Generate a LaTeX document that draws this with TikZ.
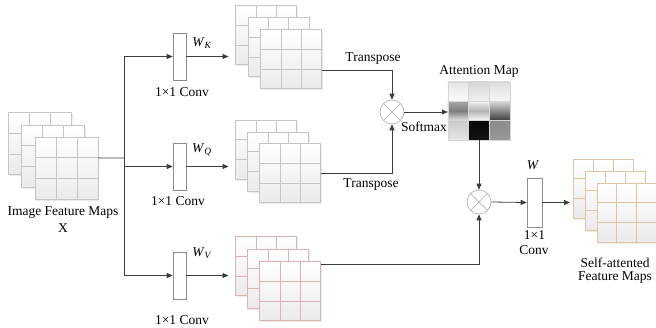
\documentclass[tikz,border=0pt]{standalone}
\usepackage{fontspec}
\setmainfont{Liberation Serif}
\usetikzlibrary{arrows.meta,calc,shadows}

\definecolor{lineC}{HTML}{3C3C3C}
\definecolor{gridG}{HTML}{C3C7CC}
\definecolor{gridR}{HTML}{DDB2B2}
\definecolor{gridT}{HTML}{DCC6A6}
\definecolor{boxC}{HTML}{8C8C8C}
\definecolor{circC}{HTML}{AAAAAA}

\begin{document}
\begin{tikzpicture}[x=1pt,y=-1pt,
  fmap/.style={draw=#1, line width=0.5pt, inner sep=0pt, outer sep=0pt,
    minimum width=61pt, minimum height=59pt,
    top color=white, bottom color=black!8,
    drop shadow={opacity=0.16, shadow xshift=1pt, shadow yshift=-1.5pt},
    path picture={
      \foreach \t in {0.3333,0.6667}{
        \draw[#1, line width=0.5pt]
          ($(path picture bounding box.north west)!\t!(path picture bounding box.north east)$) --
          ($(path picture bounding box.south west)!\t!(path picture bounding box.south east)$);
        \draw[#1, line width=0.5pt]
          ($(path picture bounding box.north west)!\t!(path picture bounding box.south west)$) --
          ($(path picture bounding box.north east)!\t!(path picture bounding box.south east)$);
      }
    }},
  conv/.style={draw=boxC, line width=0.6pt, fill=white, minimum width=13pt,
    minimum height=47pt, inner sep=0pt},
  mul/.style={circle, draw=circC, line width=0.6pt, minimum size=24pt, inner sep=0pt,
    path picture={\draw[circC, line width=0.6pt]
      (path picture bounding box.north west) -- (path picture bounding box.south east)
      (path picture bounding box.north east) -- (path picture bounding box.south west);}},
  conn/.style={draw=lineC, line width=0.8pt},
  arr/.style={conn, -{Triangle[length=6pt,width=5pt]}},
  lbl/.style={inner sep=0pt, font=\fontsize{13.5}{15}\selectfont}
]
\useasboundingbox (0,0) rectangle (656,327);

% input feature maps
\node[fmap=gridG, minimum width=63pt, minimum height=62pt] (inB) at (40,143.5) {};
\node[fmap=gridG, minimum width=63pt, minimum height=62pt] (inM) at (53,156) {};
\node[fmap=gridG, minimum width=63pt, minimum height=62pt] (inF) at (66.5,168) {};
\node[lbl] (inL1) at (63,213) {Image Feature Maps};
\node[lbl] (inL2) at (63,228) {X};

% 1x1 convolutions
\node[conv] (convK) at (179.5,56.5) {};
\node[conv] (convQ) at (179.5,166.5) {};
\node[conv] (convV) at (179.5,275.5) {};
\node[lbl] (convKl) at (182,92) {1×1 Conv};
\node[lbl] (convQl) at (178,201) {1×1 Conv};
\node[lbl] (convVl) at (182,320) {1×1 Conv};
\node[lbl] (wK) at (202,43) {\textit{W}\textsubscript{\textit{K}}};
\node[lbl] (wQ) at (202,150) {\textit{W}\textsubscript{\textit{Q}}};
\node[lbl] (wV) at (202,253) {\textit{W}\textsubscript{\textit{V}}};

% key, query and value maps
\node[fmap=gridG] (kB) at (266,35) {};
\node[fmap=gridG] (kM) at (278.5,47) {};
\node[fmap=gridG] (kF) at (291,59) {};
\node[fmap=gridG] (qB) at (266,149.5) {};
\node[fmap=gridG] (qM) at (278,161.5) {};
\node[fmap=gridG] (qF) at (290,173) {};
\node[fmap=gridR] (vB) at (266,266) {};
\node[fmap=gridR] (vM) at (278,278.5) {};
\node[fmap=gridR] (vF) at (290,291) {};

% products
\node[mul] (mulA) at (392,112) {};
\node[mul] (mulB) at (479,202) {};

% attention map: 3x3 shaded cells
\node[minimum width=62pt, minimum height=58pt, inner sep=0pt] (att) at (479,111) {};
\begin{scope}[shift={(att.north west)}]
  \foreach \c/\r/\ta/\tm/\tb in {
      0/0/E4E4E4/F2F2F2/FAFAFA, 1/0/D6D6D6/E4E4E4/F0F0F0, 2/0/DCDCDC/EAEAEA/F6F6F6,
      0/1/A8A8A8/7E7E7E/E2E2E2, 1/1/F2F2F2/B4B4B4/F8F8F8, 2/1/D8D8D8/8A8A8A/3C3C3C,
      0/2/CACACA/D8D8D8/E6E6E6, 1/2/080808/0C0C0C/141414, 2/2/8C8C8C/909090/989898}{
    \definecolor{cellA}{HTML}{\ta}
    \definecolor{cellM}{HTML}{\tm}
    \definecolor{cellB}{HTML}{\tb}
    \shade[top color=cellA, bottom color=cellB, middle color=cellM]
      (\c*20.667,\r*19.333) rectangle ++(20.667,19.333);
  }
  \foreach \i in {1,2}{
    \draw[black!16, line width=0.4pt] (\i*20.667,0) -- ++(0,58);
    \draw[black!16, line width=0.4pt] (0,\i*19.333) -- ++(62,0);
  }
  \draw[black!16, line width=0.4pt] (0,0) rectangle (62,58);
\end{scope}
\node[lbl] (attL) at (479,71) {Attention Map};

% output convolution and maps
\node[conv, minimum width=15pt, minimum height=49pt] (wconv) at (534.5,202.5) {};
\node[lbl] (wL) at (533,165) {\textit{W}};
\node[lbl] (wL1) at (534.5,235) {1×1};
\node[lbl] (wL2) at (534,250) {Conv};
\node[fmap=gridT, minimum width=60pt] (oB) at (603,188.5) {};
\node[fmap=gridT, minimum width=60pt] (oM) at (615,200.5) {};
\node[fmap=gridT, minimum width=59pt] (oF) at (626.5,212.5) {};
\node[lbl] (oL1) at (615,263) {Self-attented};
\node[lbl] (oL2) at (615,278) {Feature Maps};

% connectors
\coordinate (inOut) at ($(inF.north east)!0.34!(inF.south east)$);
\coordinate (split) at (124,158);
\draw[conn] (inOut) -- (split);
\draw[conn] (convK.west -| split) -- (convV.west -| split);
\draw[arr] (convK.west -| split) -- (convK.west);
\draw[arr] (convQ.west -| split) -- (convQ.west);
\draw[arr] (convV.west -| split) -- (convV.west);

\draw[arr, shorten >=7pt] (convK.east) -- (convK.east -| kB.west);
\draw[arr, shorten >=7pt] (convQ.east) -- (convQ.east -| qB.west);
\draw[arr, shorten >=7pt] (convV.east) -- (convV.east -| vB.west);

\draw[arr] ($(kF.north east)!0.69!(kF.south east)$) -| (mulA.north);
\draw[arr] (qF.east) -| (mulA.south);
\node[lbl] (trA) at (373,59) {Transpose};
\node[lbl] (trB) at (371,185) {Transpose};

\draw[arr] (mulA.east) -- (mulA.east -| att.west);
\node[lbl] (smx) at (424,127) {Softmax};

\draw[arr] (att.south) -- (mulB.north);
\draw[arr] ($(vF.north east)+(0,2.5)$) -| (mulB.south);
\draw[arr] (mulB.east) -- (wconv.west);
\draw[arr, shorten >=3pt] (wconv.east) -- (wconv.east -| oB.west);
\end{tikzpicture}
\end{document}
